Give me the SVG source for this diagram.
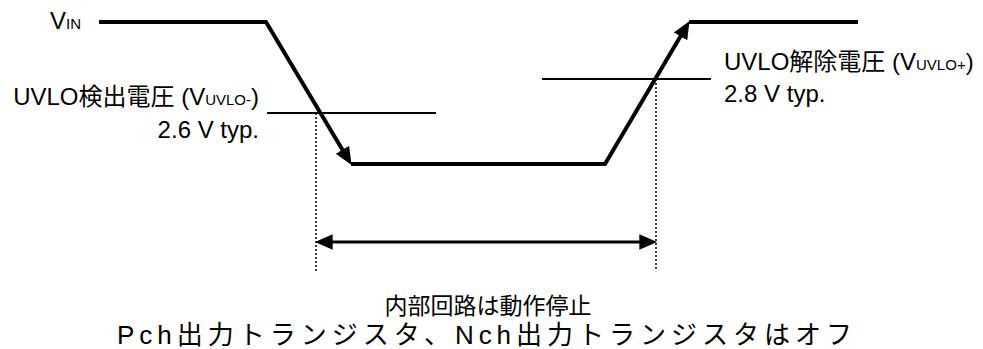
<svg xmlns="http://www.w3.org/2000/svg" width="983" height="349" viewBox="0 0 983 349">
  <style>
    text { font-family: "Liberation Sans", "Noto Sans CJK JP", sans-serif; font-size: 24px; fill: #000; }
    .sub { font-size: 15px; }
    .note1 { font-size: 23px; }
    .note2 { font-size: 26px; }
    .thick { fill: none; stroke: #000; stroke-width: 4; stroke-linejoin: miter; }
    .thin { fill: none; stroke: #000; stroke-width: 2; }
    .dot { fill: none; stroke: #000; stroke-width: 1.5; stroke-dasharray: 2 2; }
    .dim { fill: none; stroke: #000; stroke-width: 3; }
  </style>
  <defs>
    <marker id="ah" markerUnits="userSpaceOnUse" markerWidth="20" markerHeight="20" viewBox="0 -8 18 16" refX="6" refY="0" orient="auto-start-reverse">
      <path d="M0,-7 L16,0 L0,7 z" fill="#000"/>
    </marker>
  </defs>
  <g id="connectors">
    <path class="thick" d="M99,22 L266,22 L345.86,155.42" marker-end="url(#ah)"/>
    <path class="thick" d="M351,164 L605,164 L683.9,30.6" marker-end="url(#ah)"/>
    <path class="thick" d="M689,22 L858,22"/>
    <path class="thin" d="M267,113 L436,113"/>
    <path class="thin" d="M542,79 L711,79"/>
    <path class="dot" d="M316,113 L316,271"/>
    <path class="dot" d="M656,79 L656,271"/>
    <path class="dim" d="M326,242 L646,242" marker-start="url(#ah)" marker-end="url(#ah)"/>
  </g>
  <g id="vin-label">
    <text x="50" y="29">V<tspan class="sub">IN</tspan></text>
  </g>
  <g id="uvlo-detect">
    <text x="259" y="105" text-anchor="end">UVLO検出電圧 (V<tspan class="sub">UVLO-</tspan>)</text>
    <text x="259" y="138" text-anchor="end">2.6 V typ.</text>
  </g>
  <g id="uvlo-release">
    <text x="724" y="70">UVLO解除電圧 (V<tspan class="sub">UVLO+</tspan>)</text>
    <text x="724" y="102">2.8 V typ.</text>
  </g>
  <g id="stop-note">
    <text class="note1" x="488" y="314" text-anchor="middle">内部回路は動作停止</text>
    <text class="note2" x="117" y="344" textLength="735" lengthAdjust="spacing">Pch出力トランジスタ、Nch出力トランジスタはオフ</text>
  </g>
</svg>
